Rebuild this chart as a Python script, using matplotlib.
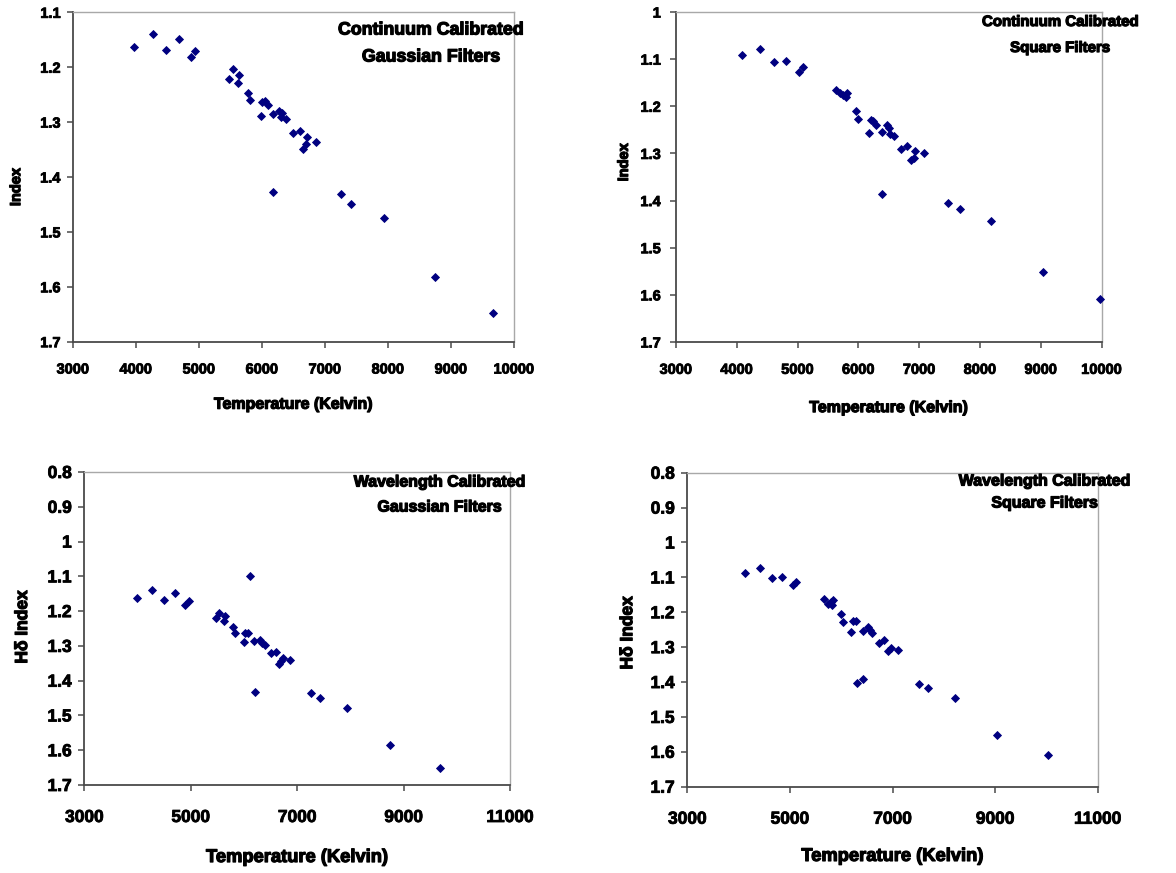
import matplotlib
matplotlib.use("Agg")
import matplotlib.pyplot as plt
from matplotlib.ticker import FuncFormatter, FixedLocator
import matplotlib.patheffects as pe

plt.rcParams['font.family'] = ['Liberation Sans', 'DejaVu Sans']
plt.rcParams['font.weight'] = 'bold'

# ---------------- data ----------------
# Panel 1: Continuum Calibrated, Gaussian Filters
temp_cg = [3973, 4265, 4481, 4678, 4941, 4868, 5535, 5640, 5471, 5614, 5783, 5814,
           6005, 6048, 6090, 5979, 6179, 6270, 6313, 6302, 6376, 6492, 6598, 6719,
           6857, 6698, 6651, 6175, 7254, 7413, 7937, 8746, 9667]
index_cg = [1.163, 1.140, 1.169, 1.149, 1.170, 1.182, 1.204, 1.214, 1.221, 1.228, 1.247, 1.260,
            1.263, 1.262, 1.269, 1.288, 1.286, 1.279, 1.284, 1.291, 1.295, 1.319, 1.316, 1.328,
            1.336, 1.340, 1.349, 1.427, 1.431, 1.449, 1.475, 1.582, 1.648]

# Panel 2: Continuum Calibrated, Square Filters
temp_cs = [4086, 4387, 4617, 4814, 5018, 5094, 5637, 5697, 5812, 5791, 5742, 5961,
           5998, 6207, 6245, 6289, 6169, 6383, 6465, 6498, 6520, 6580, 6701, 6804,
           6936, 7079, 6909, 6865, 6383, 7474, 7671, 8181, 9036, 9974]
index_cs = [1.092, 1.078, 1.105, 1.103, 1.127, 1.117, 1.166, 1.172, 1.171, 1.180, 1.176, 1.209,
            1.228, 1.230, 1.231, 1.239, 1.257, 1.254, 1.240, 1.245, 1.259, 1.262, 1.291, 1.284,
            1.294, 1.299, 1.310, 1.313, 1.387, 1.406, 1.418, 1.443, 1.552, 1.609]

# Panel 3: Wavelength Calibrated, Gaussian Filters
temp_wg = [3996, 4278, 4498, 4699, 4962, 4899, 6115, 5538, 5650, 5476, 5632, 5795,
           5833, 6015, 6071, 5996, 6195, 6303, 6346, 6397, 6515, 6609, 6729, 6872,
           6697, 6666, 6203, 7261, 7436, 7938, 8746, 9686]
index_wg = [1.163, 1.139, 1.169, 1.148, 1.170, 1.181, 1.098, 1.206, 1.213, 1.220, 1.228, 1.247,
            1.264, 1.263, 1.262, 1.289, 1.286, 1.283, 1.291, 1.297, 1.320, 1.317, 1.335, 1.342,
            1.344, 1.352, 1.433, 1.435, 1.450, 1.480, 1.584, 1.651]

# Panel 4: Wavelength Calibrated, Square Filters
temp_ws = [4119, 4423, 4645, 4852, 5066, 5125, 5671, 5743, 5846, 5821, 5795, 5996,
           6035, 6230, 6283, 6197, 6419, 6517, 6561, 6606, 6731, 6834, 6965, 6906,
           7107, 6314, 6419, 7517, 7698, 8218, 9037, 10032]
index_ws = [1.088, 1.074, 1.101, 1.098, 1.123, 1.113, 1.161, 1.177, 1.165, 1.178, 1.172, 1.205,
            1.229, 1.226, 1.225, 1.257, 1.253, 1.242, 1.251, 1.260, 1.288, 1.280, 1.302, 1.311,
            1.307, 1.402, 1.391, 1.406, 1.418, 1.447, 1.552, 1.609]

xticks_top = [3000, 4000, 5000, 6000, 7000, 8000, 9000, 10000]
xticks_bottom = [3000, 5000, 7000, 9000, 11000]
yticks_cg = [1.1, 1.2, 1.3, 1.4, 1.5, 1.6, 1.7]
yticks_cs = [1.0, 1.1, 1.2, 1.3, 1.4, 1.5, 1.6, 1.7]
yticks_w = [0.8, 0.9, 1.0, 1.1, 1.2, 1.3, 1.4, 1.5, 1.6, 1.7]

titles = [("Continuum Calibrated", "Gaussian Filters"),
          ("Continuum Calibrated", "Square Filters"),
          ("Wavelength Calibrated", "Gaussian Filters"),
          ("Wavelength Calibrated", "Square Filters")]
ylabels = ["Index", "Index", "H\u03b4 Index", "H\u03b4 Index"]
xlabel = "Temperature (Kelvin)"

# ---------------- layout ----------------
W, H = 1176, 873
fig = plt.figure(figsize=(W / 100, H / 100), dpi=100)

def px_axes(x0, y0, x1, y1):
    return fig.add_axes([x0 / W, 1 - y1 / H, (x1 - x0) / W, (y1 - y0) / H])

specs = [
    dict(box=(73, 12.3, 514, 341.7), xticks=xticks_top, yticks=yticks_cg,
         data=(temp_cg, index_cg), fs=10.5, lfs=11.5, xpad=11, ypad=5, xl_y=-0.167,
         yl=(-0.113, 0.47), tpos=(431, 30, 57), tfs=12.8),
    dict(box=(676, 12, 1101.7, 342), xticks=xticks_top, yticks=yticks_cs,
         data=(temp_cs, index_cs), fs=10.5, lfs=11.5, xpad=11, ypad=7, xl_y=-0.176,
         yl=(-0.106, 0.545), tpos=(1060, 22, 48), tfs=10.8),
    dict(box=(84.3, 472, 510, 785), xticks=xticks_bottom, yticks=yticks_w,
         data=(temp_wg, index_wg), fs=12.5, lfs=13.2, xpad=14, ypad=5, xl_y=-0.2045,
         yl=(-0.1275, 0.505), tpos=(440, 482, 507), tfs=11.5),
    dict(box=(687.3, 472.7, 1097.7, 786.7), xticks=xticks_bottom, yticks=yticks_w,
         data=(temp_ws, index_ws), fs=12.5, lfs=13.2, xpad=14, ypad=5, xl_y=-0.195,
         yl=(-0.127, 0.49), tpos=(1045, 481, 503), tfs=11.5),
]

stroke = [pe.withStroke(linewidth=0.9, foreground='black')]
tstroke = [pe.withStroke(linewidth=0.6, foreground='black')]
fmt = FuncFormatter(lambda v, p: f"{v:g}")

axes = []
for i, s in enumerate(specs):
    ax = px_axes(*s['box'])
    axes.append(ax)
    xs, ys = s['data']
    ax.plot(xs, ys, linestyle='none', marker='D', markersize=3.6,
            markerfacecolor='#000080', markeredgecolor='#000080', markeredgewidth=0.6,
            clip_on=False, zorder=3)
    ax.set_xlim(s['xticks'][0], s['xticks'][-1])
    ax.set_ylim(s['yticks'][-1], s['yticks'][0])
    ax.xaxis.set_major_locator(FixedLocator(s['xticks']))
    ax.yaxis.set_major_locator(FixedLocator(s['yticks']))
    ax.yaxis.set_major_formatter(fmt)
    ax.xaxis.set_major_formatter(fmt)
    for side in ('left', 'bottom'):
        ax.spines[side].set_color('#4a4a4a')
        ax.spines[side].set_linewidth(1.3)
    for side in ('top', 'right'):
        ax.spines[side].set_color('#a8a8a8')
        ax.spines[side].set_linewidth(1.0)
    ax.tick_params(axis='both', direction='out', length=4, width=1.1, color='#4a4a4a',
                   labelsize=s['fs'], top=False, right=False)
    ax.tick_params(axis='x', pad=s['xpad'])
    ax.tick_params(axis='y', pad=s['ypad'])
    ax.set_xlabel(xlabel, fontsize=s['lfs'], fontweight='bold')
    ax.xaxis.set_label_coords(0.5, s['xl_y'])
    ax.xaxis.label.set_path_effects(stroke)
    ax.set_ylabel(ylabels[i], fontsize=s['fs'], fontweight='bold')
    ax.yaxis.set_label_coords(*s['yl'])
    ax.yaxis.label.set_path_effects(stroke)
    tx, ty1, ty2 = s['tpos']
    for txt, ty in ((titles[i][0], ty1), (titles[i][1], ty2)):
        t = fig.text(tx / W, 1 - ty / H, txt, ha='center', va='center',
                     fontsize=s['tfs'], fontweight='bold')
        t.set_path_effects(stroke)

fig.canvas.draw()
for ax in axes:
    for lab in ax.get_xticklabels() + ax.get_yticklabels():
        lab.set_fontweight('bold')
        lab.set_path_effects(tstroke)

fig.savefig("out.png", dpi=100)
